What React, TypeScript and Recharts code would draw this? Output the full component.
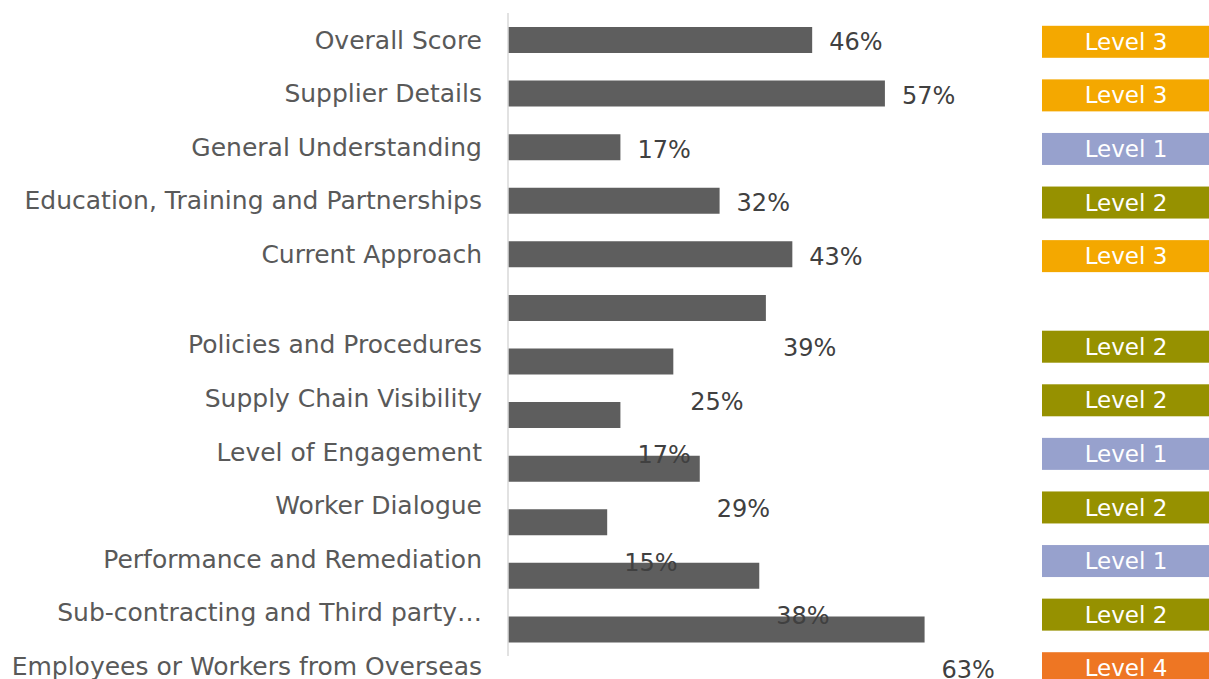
import { Bar, BarChart, LabelList, XAxis, YAxis } from "recharts";

const CATEGORIES = [
  "Overall Score",
  "Supplier Details",
  "General Understanding",
  "Education, Training and Partnerships",
  "Current Approach",
  "Policies and Procedures",
  "Supply Chain Visibility",
  "Level of Engagement",
  "Worker Dialogue",
  "Performance and Remediation",
  "Sub-contracting and Third party…",
  "Employees or Workers from Overseas",
];
const SCORES = [46, 57, 17, 32, 43, 39, 25, 17, 29, 15, 38, 63];
const LEVELS = [3, 3, 1, 2, 3, 2, 2, 1, 2, 1, 2, 4];
const BOUNDARY_TICKS = [0, 1, 2, 3, 4, 5, 6, 7, 8, 9, 10, 11, 12];

const LEVEL_COLORS: Record<number, string> = {
  1: "#97A1CD",
  2: "#969100",
  3: "#F4A800",
  4: "#EE7623",
};

// in the original, text for the lower rows sits a little below its bar
const DROP_FROM = 5;
const TEXT_DROP = 37;
const VALUE_DROP = 38;

const FONT = "'DejaVu Sans', sans-serif";

const data = CATEGORIES.map((name, i) => ({ name, score: SCORES[i], level: LEVELS[i] }));

function drop(index: number, amount: number) {
  return index >= DROP_FROM ? amount : 0;
}

function CategoryTick({ x, y, payload, index }: any) {
  return (
    <text
      x={x}
      y={y + drop(index, TEXT_DROP)}
      dy="0.35em"
      textAnchor="end"
      fill="#595959"
      fontSize={25}
      fontFamily={FONT}
    >
      {payload.value}
    </text>
  );
}

function LevelTick({ x, y, index }: any) {
  const level = LEVELS[index];
  const cy = y + 2 + drop(index, TEXT_DROP);
  return (
    <g>
      <rect x={x} y={cy - 16} width={170} height={32} fill={LEVEL_COLORS[level]} />
      <text
        x={x + 84}
        y={cy}
        dy="0.35em"
        textAnchor="middle"
        fill="#ffffff"
        fontSize={23}
        fontFamily={FONT}
      >
        {`Level ${level}`}
      </text>
    </g>
  );
}

function ValueLabel({ x, y, width, height, value, index }: any) {
  return (
    <text
      x={x + width + 17}
      y={y + height / 2 + 2 + drop(index, VALUE_DROP)}
      dy="0.35em"
      textAnchor="start"
      fill="#404040"
      fontSize={24}
      fontFamily={FONT}
    >
      {`${value}%`}
    </text>
  );
}

export default function App() {
  return (
    <div style={{ position: "absolute", left: 0, top: 0, background: "#fff" }}>
      <BarChart
        width={1209}
        height={679}
        data={data}
        layout="vertical"
        margin={{ top: 13, right: 0, bottom: 23, left: 0 }}
      >
        <XAxis type="number" domain={[0, 80]} hide />
        {/* frame axis: line plus tick marks between the rows */}
        <YAxis
          type="number"
          domain={[0, 12]}
          ticks={BOUNDARY_TICKS}
          allowDataOverflow
          width={1}
          tick={false}
          tickSize={6}
          axisLine={{ stroke: "#D9D9D9", strokeWidth: 1.5 }}
          tickLine={{ stroke: "#D9D9D9", strokeWidth: 1.5 }}
        />
        <YAxis
          yAxisId="names"
          type="category"
          dataKey="name"
          width={507}
          axisLine={false}
          tickLine={false}
          tickSize={0}
          tickMargin={25}
          interval={0}
          tick={<CategoryTick />}
        />
        <YAxis
          yAxisId="levels"
          orientation="right"
          type="category"
          dataKey="name"
          width={172}
          axisLine={false}
          tickLine={false}
          tickSize={0}
          tickMargin={5}
          interval={0}
          tick={<LevelTick />}
        />
        <Bar yAxisId="names" dataKey="score" fill="#5E5E5E" barSize={26} isAnimationActive={false}>
          <LabelList dataKey="score" content={<ValueLabel />} />
        </Bar>
      </BarChart>
    </div>
  );
}
